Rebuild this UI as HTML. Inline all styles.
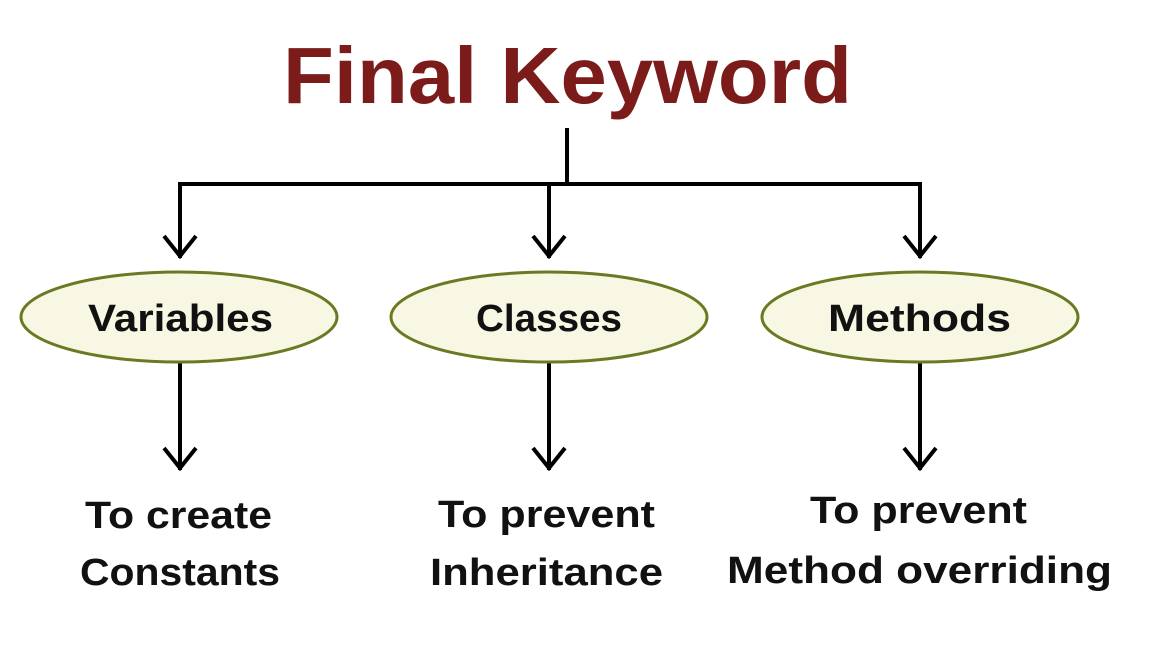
<!DOCTYPE html>
<html><head><meta charset="utf-8"><style>
html,body{margin:0;padding:0;background:#fff;width:1158px;height:648px;overflow:hidden}
svg{display:block}
text{font-family:"Liberation Sans",sans-serif;font-weight:bold}
</style></head><body>
<svg width="1158" height="648" viewBox="0 0 1158 648">
<text x="283" y="103" font-size="80" fill="#7b1c1a" textLength="569" lengthAdjust="spacingAndGlyphs">Final Keyword</text>
<g stroke="#000" stroke-width="4" fill="none" stroke-linecap="butt">
<line x1="567" y1="128" x2="567" y2="184"/>
<polyline points="180,258 180,184 920,184 920,258"/>
<line x1="549" y1="184" x2="549" y2="258"/>
<polyline points="164,236 180,256 196,236"/>
<polyline points="533,236 549,256 565,236"/>
<polyline points="904,236 920,256 936,236"/>
<line x1="180" y1="362" x2="180" y2="470"/>
<line x1="549" y1="362" x2="549" y2="470"/>
<line x1="920" y1="362" x2="920" y2="470"/>
<polyline points="164,448 180,468 196,448"/>
<polyline points="533,448 549,468 565,448"/>
<polyline points="904,448 920,468 936,448"/>
</g>
<g fill="#f7f7e4" stroke="#6b7a22" stroke-width="3">
<ellipse cx="179" cy="317" rx="158" ry="45"/>
<ellipse cx="549" cy="317" rx="158" ry="45"/>
<ellipse cx="920" cy="317" rx="158" ry="45"/>
</g>
<g fill="#111" font-size="38">
<text x="88" y="331" textLength="185" lengthAdjust="spacingAndGlyphs">Variables</text>
<text x="476" y="331" textLength="146" lengthAdjust="spacingAndGlyphs">Classes</text>
<text x="828" y="331" textLength="183" lengthAdjust="spacingAndGlyphs">Methods</text>
<text x="85" y="528" textLength="187" lengthAdjust="spacingAndGlyphs">To create</text>
<text x="80" y="585" textLength="200" lengthAdjust="spacingAndGlyphs">Constants</text>
<text x="438" y="527" textLength="217" lengthAdjust="spacingAndGlyphs">To prevent</text>
<text x="430" y="585" textLength="233" lengthAdjust="spacingAndGlyphs">Inheritance</text>
<text x="810" y="523" textLength="217" lengthAdjust="spacingAndGlyphs">To prevent</text>
<text x="727" y="583" textLength="385" lengthAdjust="spacingAndGlyphs">Method overriding</text>
</g>
</svg>
</body></html>
